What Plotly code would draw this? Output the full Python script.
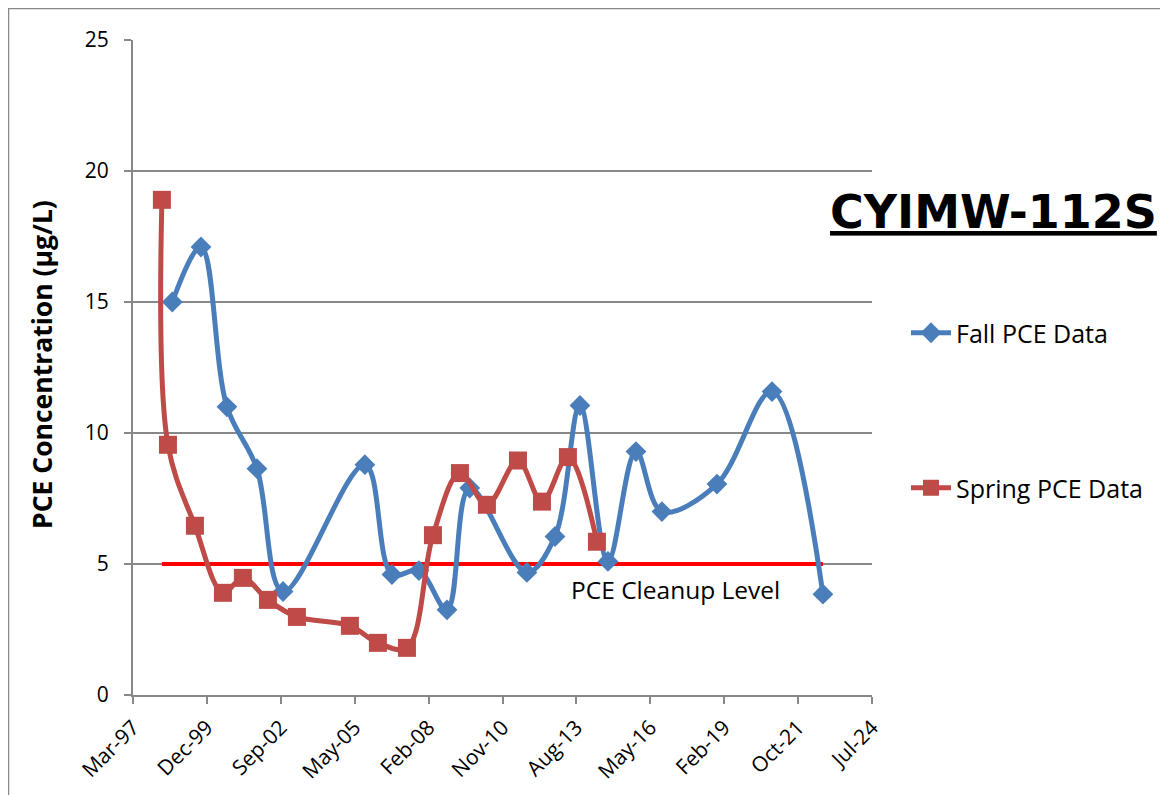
import plotly.graph_objects as go

fall_dates = ["1998-08-25", "1999-09-17", "2000-09-02", "2001-10-13", "2002-10-01",
              "2005-10-13", "2006-10-14", "2007-10-14", "2008-10-28", "2009-09-01",
              "2011-10-14", "2012-10-28", "2013-10-01", "2014-10-15", "2015-10-29",
              "2016-10-14", "2018-10-29", "2020-11-12", "2022-10-02"]
fall_values = [15.0, 17.1, 11.0, 8.64, 3.95, 8.79, 4.6, 4.75, 3.25, 7.9,
               4.68, 6.05, 11.05, 5.1, 9.29, 7.0, 8.05, 11.58, 3.85]

spring_dates = ["1998-04-06", "1998-06-27", "1999-06-27", "2000-07-10", "2001-04-06",
                "2002-03-11", "2003-04-07", "2005-03-24", "2006-04-07", "2007-05-05",
                "2008-04-21", "2009-04-21", "2010-04-21", "2011-06-15", "2012-05-05",
                "2013-04-21", "2014-05-19"]
spring_values = [18.9, 9.55, 6.46, 3.9, 4.47, 3.63, 2.98, 2.64, 1.99, 1.8,
                 6.1, 8.47, 7.26, 8.95, 7.38, 9.08, 5.85]

cleanup_dates = ["1998-04-06", "2022-10-02"]
cleanup_values = [5, 5]

tick_dates = ["1997-03-11", "1999-12-06", "2002-09-01", "2005-05-28", "2008-02-22",
              "2010-11-18", "2013-08-14", "2016-05-10", "2019-02-04", "2021-10-31",
              "2024-07-27"]
tick_labels = ["Mar-97", "Dec-99", "Sep-02", "May-05", "Feb-08", "Nov-10",
               "Aug-13", "May-16", "Feb-19", "Oct-21", "Jul-24"]

FONT = "Open Sans, Lato, sans-serif"
TITLE_FONT = "DejaVu Sans, Open Sans, sans-serif"
BLUE = "#4a7ebb"
RED = "#be4b48"
GRID = "#888888"

OFF = 8  # page body margin
FW, FH = 1160, 787
L, T, W, H = 133 - OFF, 40 - OFF, 739, 655


def px(x):
    return ((x - OFF) - L) / W


def py(y):
    return (T + H - (y - OFF)) / H


fig = go.Figure()
fig.add_trace(go.Scatter(
    x=cleanup_dates, y=cleanup_values, mode="lines", showlegend=False,
    line=dict(color="#ff0000", width=4), hoverinfo="skip"))
fig.add_trace(go.Scatter(
    x=fall_dates, y=fall_values, mode="lines+markers", name="Fall PCE Data",
    line=dict(color=BLUE, width=5, shape="spline", smoothing=1.0),
    marker=dict(symbol="diamond", size=16, color=BLUE), legend="legend"))
fig.add_trace(go.Scatter(
    x=spring_dates, y=spring_values, mode="lines+markers", name="Spring PCE Data",
    line=dict(color=RED, width=5, shape="spline", smoothing=1.0),
    marker=dict(symbol="square", size=18, color=RED), legend="legend2"))

fig.add_annotation(x=px(675), y=py(589), xref="paper", yref="paper",
                   xanchor="center", yanchor="middle",
                   text="PCE Cleanup Level", showarrow=False,
                   font=dict(family=FONT, size=24.5, color="#000000"))
fig.add_annotation(x=px(993), y=py(212), xref="paper", yref="paper",
                   xanchor="center", yanchor="middle",
                   text="<b><u>CYIMW-112S</u></b>", showarrow=False,
                   font=dict(family=TITLE_FONT, size=46, color="#000000"))
fig.add_annotation(x=px(42), y=py(365), xref="paper", yref="paper",
                   xanchor="center", yanchor="middle",
                   text="<b>PCE Concentration (µg/L)</b>", showarrow=False,
                   textangle=-90,
                   font=dict(family=FONT, size=26.5, color="#000000"))

fig.add_shape(type="rect", xref="paper", yref="paper",
              x0=px(8), x1=px(1200), y0=py(8), y1=py(830),
              line=dict(color=GRID, width=2.5))

fig.update_layout(
    width=FW, height=FH,
    margin=dict(l=L, r=FW - L - W, t=T, b=FH - T - H),
    paper_bgcolor="white", plot_bgcolor="white",
    font=dict(family=FONT, color="#000000"),
    legend=dict(x=px(906), y=py(333), xref="paper", yref="paper",
                xanchor="left", yanchor="middle",
                font=dict(family=FONT, size=25, color="#000000"),
                bgcolor="rgba(0,0,0,0)", itemwidth=40),
    legend2=dict(x=px(906), y=py(488), xref="paper", yref="paper",
                 xanchor="left", yanchor="middle",
                 font=dict(family=FONT, size=25, color="#000000"),
                 bgcolor="rgba(0,0,0,0)", itemwidth=40),
    xaxis=dict(type="date", range=[tick_dates[0], tick_dates[-1]],
               tickmode="array", tickvals=tick_dates, ticktext=tick_labels,
               tickangle=-45, ticks="outside", ticklen=7, tickwidth=2,
               tickcolor=GRID, showline=True, linecolor=GRID,
               linewidth=2, showgrid=False, zeroline=False,
               ticklabelstandoff=3,
               tickfont=dict(family=FONT, size=21, color="#000000")),
    yaxis=dict(range=[0, 25], tickvals=[0, 5, 10, 15, 20, 25],
               ticks="outside", ticklen=7, tickwidth=2, tickcolor=GRID,
               showline=True, linecolor=GRID, linewidth=2,
               showgrid=True, gridcolor=GRID, gridwidth=1.8,
               zeroline=False, ticklabelstandoff=11,
               tickfont=dict(family=FONT, size=21, color="#000000")),
)

fig.write_html("out.html")
